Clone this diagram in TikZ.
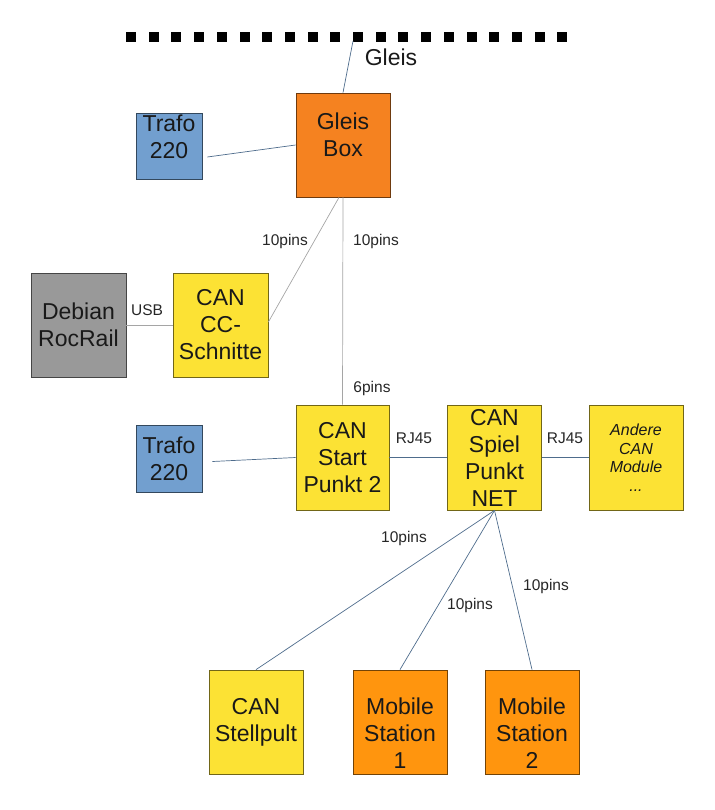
\documentclass[tikz,border=0pt]{standalone}
\usepackage{fontspec}
\setmainfont{Liberation Sans}
\usepackage{tikz}

\definecolor{trafoblue}{RGB}{114,159,207}
\definecolor{boxorange}{RGB}{245,130,32}
\definecolor{msorange}{RGB}{255,149,14}
\definecolor{canyellow}{RGB}{252,226,52}
\definecolor{pcgray}{RGB}{153,153,153}
\definecolor{wireblue}{RGB}{78,108,140}
\definecolor{wiregray}{RGB}{165,165,165}

\begin{document}
\begin{tikzpicture}[x=1pt,y=-1pt,
  box/.style={draw=#1!45!black,fill=#1,line width=0.8pt,
    minimum width=94pt,minimum height=104pt,inner sep=0pt,
    align=center,text=black!90,font=\fontsize{23}{27}\selectfont},
  boxtext/.style={align=center,text=black!90,inner sep=0pt,
    font=\fontsize{23}{27}\selectfont},
  wire/.style={wireblue,line width=0.7pt},
  greywire/.style={wiregray,line width=0.7pt},
  pinlabel/.style={inner sep=0pt,text=black!85,
    font=\fontsize{15.5}{18}\selectfont}]
  \useasboundingbox (0,0) rectangle (714,810);

  % the track
  \foreach \i in {0,...,19}
    \fill (126+\i*22.7,32) rectangle ++(10,10);
  \coordinate (track) at (353,41);
  \node[boxtext] (gleislabel) at (391,57) {Gleis};

  % upper row
  \node[box=boxorange] (gleisbox) at (343,145) {};
  \node[boxtext] (gleisboxtext) at ([yshift=10pt]gleisbox.center) {Gleis\\Box};
  \node[box=trafoblue,minimum width=66pt,minimum height=66pt]
    (trafotop) at (169,146) {};
  \node[boxtext] (trafotoptext) at ([yshift=9pt]trafotop.center) {Trafo\\220};

  \node[box=pcgray,minimum width=95pt] (debian) at (78.5,325) {Debian\\RocRail};
  \node[box=canyellow,minimum width=95pt] (ccs) at (220.5,325) {CAN\\CC-\\Schnitte};

  % CAN bus row
  \node[box=canyellow,minimum width=93pt,minimum height=105pt]
    (start) at (342.5,457.5) {CAN\\Start\\Punkt 2};
  \node[box=canyellow,minimum height=105pt]
    (spiel) at (494.5,457.5) {CAN\\Spiel\\Punkt\\NET};
  \node[box=canyellow,minimum height=105pt,
    font=\fontsize{16}{18.5}\selectfont\itshape]
    (andere) at (636,457.5) {Andere\\CAN\\Module\\...};
  \node[box=trafoblue,minimum width=66pt,minimum height=67pt]
    (trafobot) at (169,458.5) {Trafo\\220};

  % handhelds
  \node[box=canyellow] (stellpult) at (256,722) {CAN\\Stellpult};
  \node[box=msorange] (msone) at (400,722) {};
  \node[boxtext] (msonetext) at ([yshift=-11pt]msone.center) {Mobile\\Station\\1};
  \node[box=msorange] (mstwo) at (532,722) {};
  \node[boxtext] (mstwotext) at ([yshift=-11pt]mstwo.center) {Mobile\\Station\\2};

  % connections
  \draw[wire] (track) -- (gleisbox.north);
  \draw[wire] ([xshift=5pt,yshift=-11pt]trafotop.east) -- (gleisbox.west);
  \draw[greywire] (debian.east) -- (ccs.west);
  \draw[greywire] ([yshift=3pt]ccs.east) -- ([xshift=-4pt]gleisbox.south);
  \draw[greywire] (gleisbox.south) -- (start.north);
  \draw[wire] ([xshift=10pt,yshift=-3pt]trafobot.east) -- (start.west);
  \draw[wire] (start) -- (spiel);
  \draw[wire] (spiel) -- (andere);
  \draw[wire] (spiel.south) -- (stellpult.north);
  \draw[wire] (spiel.south) -- (msone.north);
  \draw[wire] (spiel.south) -- (mstwo.north);

  % cable labels
  \node[pinlabel] (pinsccs) at (285,241) {10pins};
  \node[pinlabel] (pinsgleis) at (376,241) {10pins};
  \node[pinlabel] (usb) at (147,310) {USB};
  \node[pinlabel] (pinsstart) at (372,388) {6pins};
  \node[pinlabel] (rjone) at (414,438) {RJ45};
  \node[pinlabel] (rjtwo) at (565,438) {RJ45};
  \node[pinlabel] (pinsstell) at (404,538) {10pins};
  \node[pinlabel] (pinsmsone) at (470,605) {10pins};
  \node[pinlabel] (pinsmstwo) at (546,586) {10pins};
\end{tikzpicture}
\end{document}
